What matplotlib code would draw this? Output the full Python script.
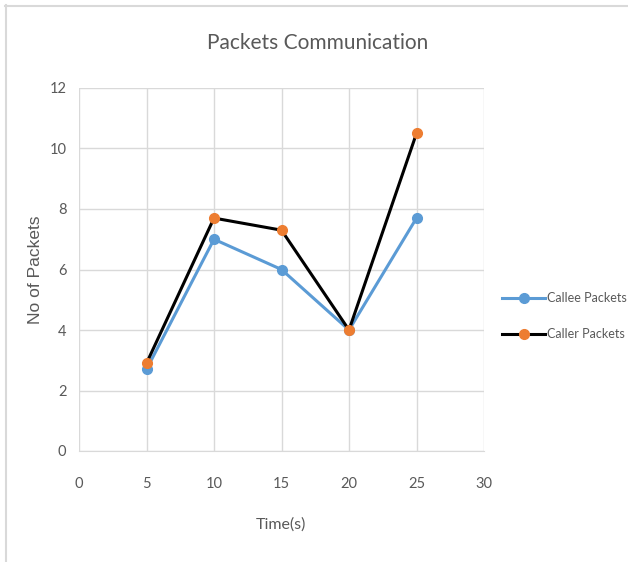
import matplotlib
matplotlib.use("Agg")
import matplotlib.pyplot as plt
from matplotlib.lines import Line2D

time_s = [5, 10, 15, 20, 25]
callee_packets = [2.7, 7.0, 6.0, 4.0, 7.7]
caller_packets = [2.9, 7.7, 7.3, 4.0, 10.5]
x_ticks = [0, 5, 10, 15, 20, 25, 30]
y_ticks = [0, 2, 4, 6, 8, 10, 12]

plt.rcParams["font.family"] = ["Lato", "DejaVu Sans"]

W, H = 628, 562
fig = plt.figure(figsize=(W / 100, H / 100), dpi=100)

def fx(px):
    return px / W

def fy(py):
    return 1 - py / H

ax = fig.add_axes([fx(79), fy(451), fx(484) - fx(79), fy(88) - fy(451)])

text_grey = "#595959"
grid_grey = "#d9d9d9"

ax.plot(time_s, callee_packets, color="#5b9bd5", lw=2.2, marker="o",
        ms=7, label="Callee Packets", zorder=3)
ax.plot(time_s, caller_packets, color="black", lw=2.2, marker="o",
        ms=7, markerfacecolor="#ed7d31", markeredgecolor="#ed7d31",
        label="Caller Packets", zorder=4)

ax.set_xlim(0, 30)
ax.set_ylim(0, 12)
ax.set_xticks(x_ticks)
ax.set_yticks(y_ticks)
ax.grid(True, color=grid_grey, lw=1)
ax.set_axisbelow(True)
for s in ["top", "right", "left"]:
    ax.spines[s].set_visible(False)
ax.spines["bottom"].set_color(grid_grey)
ax.tick_params(length=0, labelsize=10.5, colors=text_grey)
ax.tick_params(axis="y", pad=9)
ax.tick_params(axis="x", pad=19)

fig.text(fx(318), fy(43), "Packets Communication", ha="center", va="center",
         fontsize=15, color=text_grey)
fig.text(fx(281), fy(525), "Time(s)", ha="center", va="center",
         fontsize=11.5, color=text_grey)
fig.text(fx(35), fy(270), "No of Packets", ha="center", va="center",
         rotation=90, fontsize=12.5, color=text_grey,
         family=["Liberation Sans", "DejaVu Sans"])

handles = [
    Line2D([0], [0], color="#5b9bd5", lw=2.2, marker="o", ms=7),
    Line2D([0], [0], color="black", lw=2.2, marker="o", ms=7,
           markerfacecolor="#ed7d31", markeredgecolor="#ed7d31"),
]
leg = fig.legend(handles, ["Callee Packets", "Caller Packets"],
                 loc="center left", bbox_to_anchor=(fx(496), fy(316)),
                 frameon=False, fontsize=9, handlelength=3.4,
                 handletextpad=0.15, labelspacing=1.9, borderpad=0)
for t in leg.get_texts():
    t.set_color(text_grey)

# outer chart frame (top and left edges)
fig.add_artist(Line2D([fx(5), 1], [fy(5.5), fy(5.5)], color="#d9d9d9", lw=1.5))
fig.add_artist(Line2D([fx(5.5), fx(5.5)], [fy(5), 0], color="#d9d9d9", lw=1.5))

fig.savefig("out.png", dpi=100)
